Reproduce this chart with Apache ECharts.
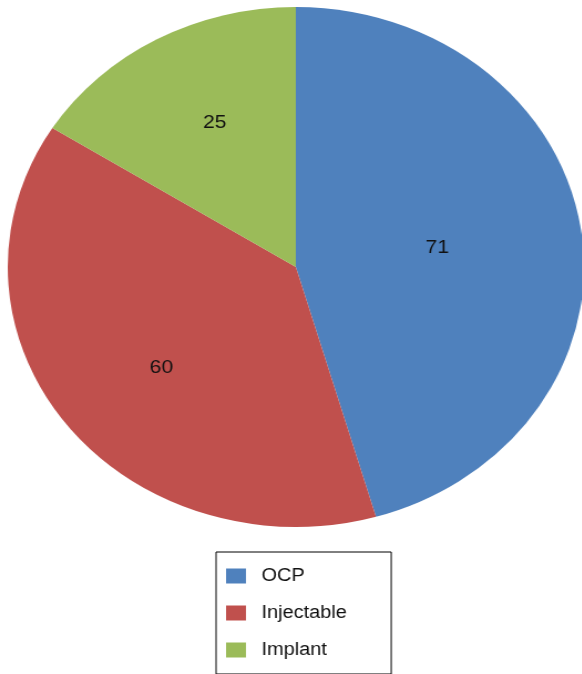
<!DOCTYPE html>
<html>
<head>
<meta charset="utf-8">
<script src="https://cdn.jsdelivr.net/npm/echarts@6/dist/echarts.min.js"></script>
<style>
  html, body { margin: 0; padding: 0; background: #fff; overflow: hidden; }
  /* the original pie is an ellipse, so the whole chart is stretched sideways */
  #chart {
    width: 525px;
    height: 674px;
    transform: scaleX(1.108);
    transform-origin: 0 0;
  }
</style>
</head>
<body>
<div id="chart"></div>
<script>
var categories = ['OCP', 'Injectable', 'Implant']
var values = [71, 60, 25]
var colors = ['#4F81BD', '#C0504D', '#9BBB59']
// nudges so the numbers sit where Excel put them
var labelShift = [[-4, -1], [-15, 21], [-9, -28]]

var myChart = echarts.init(document.getElementById('chart'))

var pieData = []
for (var i = 0; i < categories.length; i++) {
  pieData.push({
    name: categories[i],
    value: values[i],
    itemStyle: { color: colors[i] }
  })
}

myChart.setOption({
  backgroundColor: '#fff',
  animation: false,
  legend: {
    orient: 'vertical',
    left: 195,
    top: 552,
    data: categories,
    icon: 'rect',
    itemWidth: 18,
    itemHeight: 15,
    itemGap: 19,
    borderColor: '#000',
    borderWidth: 1,
    padding: [15, 40, 15, 9],
    textStyle: {
      fontFamily: 'Liberation Sans',
      fontSize: 18,
      color: '#111',
      padding: [0, 0, 0, 9]
    }
  },
  series: [
    {
      type: 'pie',
      center: [267, 267],
      radius: 260,
      startAngle: 90,
      clockwise: true,
      silent: true,
      label: {
        show: true,
        position: 'inside',
        formatter: '{c}',
        fontFamily: 'Liberation Sans',
        fontSize: 19,
        color: '#111'
      },
      labelLine: { show: false },
      labelLayout: function (params) {
        var s = labelShift[params.dataIndex]
        return { dx: s[0], dy: s[1] }
      },
      itemStyle: { borderWidth: 0 },
      data: pieData
    }
  ]
})
</script>
</body>
</html>
